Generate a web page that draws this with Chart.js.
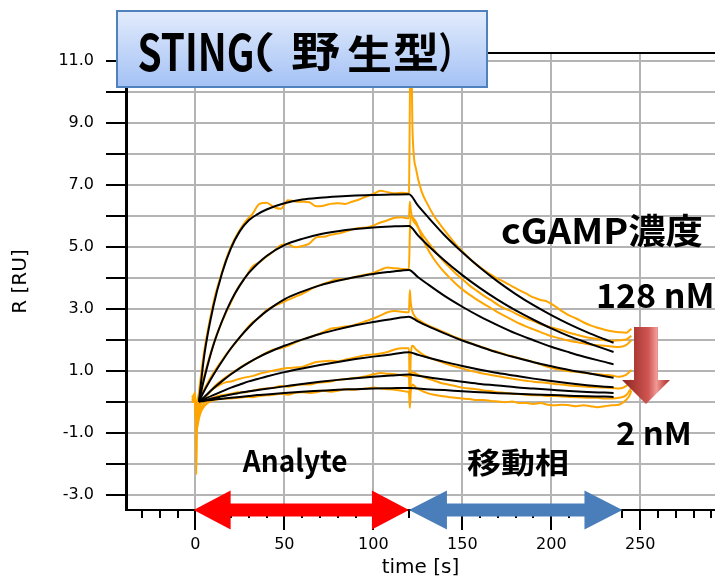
<!DOCTYPE html>
<html>
<head>
<meta charset="utf-8">
<script src="https://cdn.jsdelivr.net/npm/chart.js@4.4.1/dist/chart.umd.min.js"></script>
<style>
html, body { margin: 0; padding: 0; background: #fff; }
</style>
</head>
<body>
<canvas id="sensorgramChart" width="715" height="580"></canvas>
<script>
// Temps des points mesurés (s)
const tMesure = [
    -2, -1, 0, 0.5, 1, 2, 3, 5,
    8, 11, 14, 17, 20, 24, 28, 32, 36, 40,
    44, 48, 52, 56, 60, 64, 68, 72, 76, 80,
    84, 88, 92, 96, 100, 104, 108, 112, 116, 119,
    120, 120.5, 121, 122, 124, 127, 130, 134, 138, 142,
    146, 150, 154, 158, 162, 166, 170, 174, 178, 182,
    186, 190, 194, 198, 202, 206, 210, 214, 218, 222,
    226, 230, 234, 238, 242, 244, 245
];

// Réponses mesurées (RU) pour chaque concentration de cGAMP
const mesure128 = [
    0.15, 0.2, 0.3, -2.35, -0.4, 0.3, 0.8, 1.65,
    2.6, 3.4, 4.0, 4.55, 5.0, 5.45, 5.8, 6.05, 6.38, 6.42,
    6.28, 6.22, 6.5, 6.46, 6.45, 6.43, 6.3, 6.32, 6.38, 6.4,
    6.38, 6.45, 6.52, 6.62, 6.7, 6.8, 6.76, 6.72, 6.74, 6.72,
    6.75, 9.5, 13, 8.8, 7.5, 6.8, 6.42, 6.0, 5.68, 5.38,
    5.1, 4.85, 4.62, 4.42, 4.25, 4.1, 3.96, 3.85, 3.72, 3.6,
    3.48, 3.36, 3.28, 3.22, 3.08, 2.92, 2.78, 2.68, 2.56, 2.46,
    2.38, 2.32, 2.27, 2.24, 2.22, 2.3, 2.35
];
const mesure64 = [
    0.1, 0.12, 0.15, -0.5, -0.2, 0.2, 0.45, 0.85,
    1.45, 2.0, 2.45, 2.85, 3.2, 3.68, 4.0, 4.35, 4.5, 4.68,
    4.85, 5.05, 5.08, 4.98, 5.02, 5.1, 5.3, 5.32, 5.38, 5.42,
    5.48, 5.55, 5.6, 5.62, 5.68, 5.78, 5.85, 5.93, 5.95, 5.92,
    5.92, 6.45, 6.2, 5.9, 5.72, 5.45, 5.2, 4.9, 4.62, 4.38,
    4.15, 3.95, 3.75, 3.58, 3.42, 3.28, 3.12, 3.0, 2.9, 2.78,
    2.68, 2.6, 2.5, 2.42, 2.36, 2.3, 2.22, 2.16, 2.1, 2.05,
    2.02, 1.98, 1.96, 1.98, 2.0, 2.08, 2.12
];
const mesure32 = [
    0.05, 0.08, 0.1, -0.6, -0.35, 0.0, 0.2, 0.4,
    0.72, 1.0, 1.25, 1.5, 1.72, 2.0, 2.3, 2.55, 2.72, 2.95,
    3.08, 3.18, 3.28, 3.38, 3.48, 3.6, 3.72, 3.8, 3.88, 3.95,
    3.95, 4.0, 4.05, 4.1, 4.15, 4.25, 4.33, 4.3, 4.28, 4.27,
    4.27, 5.4, 6.0, 5.95, 5.8, 5.35, 4.98, 4.6, 4.3, 4.05,
    3.82, 3.62, 3.45, 3.3, 3.15, 3.02, 2.88, 2.76, 2.64, 2.52,
    2.42, 2.33, 2.24, 2.15, 2.08, 2.02, 1.96, 1.92, 1.88, 1.84,
    1.82, 1.8, 1.78, 1.76, 1.82, 1.92, 1.98
];
const mesure16 = [
    0.05, 0.05, 0.08, -0.7, -0.45, -0.15, 0.0, 0.12,
    0.3, 0.5, 0.65, 0.78, 0.9, 1.05, 1.2, 1.32, 1.45, 1.58,
    1.68, 1.72, 1.8, 1.9, 2.0, 2.08, 2.15, 2.25, 2.35, 2.38,
    2.42, 2.45, 2.52, 2.6, 2.68, 2.78, 2.88, 2.92, 2.9, 2.88,
    2.88, 3.6, 3.2, 2.9, 2.7, 2.58, 2.48, 2.38, 2.28, 2.18,
    2.08, 2.0, 1.9, 1.82, 1.74, 1.66, 1.6, 1.52, 1.46, 1.4,
    1.34, 1.28, 1.2, 1.12, 1.06, 1.02, 0.98, 0.96, 0.93, 0.9,
    0.88, 0.86, 0.84, 0.8, 0.86, 0.96, 1.02
];
const mesure8 = [
    0.0, 0.02, 0.05, -0.8, -0.6, -0.3, -0.1, 0.08,
    0.3, 0.45, 0.55, 0.62, 0.65, 0.72, 0.78, 0.82, 0.9, 0.95,
    1.0, 1.05, 1.08, 1.1, 1.12, 1.2, 1.28, 1.3, 1.32, 1.3,
    1.35, 1.4, 1.45, 1.5, 1.52, 1.55, 1.6, 1.68, 1.72, 1.72,
    1.72, 0.25, 1.4, 1.8, 1.68, 1.55, 1.45, 1.36, 1.28, 1.2,
    1.13, 1.07, 1.0, 0.95, 0.9, 0.86, 0.82, 0.78, 0.74, 0.7,
    0.67, 0.64, 0.62, 0.6, 0.57, 0.55, 0.52, 0.5, 0.49, 0.47,
    0.46, 0.45, 0.44, 0.42, 0.5, 0.62, 0.7
];
const mesure4 = [
    0.0, 0.0, 0.02, -0.9, -0.75, -0.45, -0.25, -0.05,
    0.08, 0.15, 0.2, 0.22, 0.25, 0.3, 0.3, 0.35, 0.4, 0.42,
    0.45, 0.5, 0.48, 0.52, 0.55, 0.55, 0.6, 0.62, 0.65, 0.7,
    0.72, 0.75, 0.78, 0.82, 0.88, 0.92, 0.9, 0.88, 0.85, 0.82,
    0.82, 0.2, 0.7, 0.95, 0.9, 0.82, 0.75, 0.68, 0.6, 0.55,
    0.5, 0.45, 0.42, 0.4, 0.36, 0.34, 0.3, 0.28, 0.25, 0.24,
    0.22, 0.2, 0.2, 0.18, 0.18, 0.16, 0.15, 0.14, 0.13, 0.12,
    0.12, 0.1, 0.1, 0.12, 0.2, 0.35, 0.45
];
const mesure2 = [
    -0.02, 0.0, 0.0, -1.0, -0.85, -0.55, -0.35, -0.15,
    0.0, 0.05, 0.08, 0.1, 0.1, 0.12, 0.15, 0.14, 0.18, 0.2,
    0.22, 0.25, 0.22, 0.28, 0.3, 0.28, 0.3, 0.35, 0.32, 0.35,
    0.4, 0.38, 0.4, 0.42, 0.45, 0.42, 0.4, 0.38, 0.35, 0.32,
    0.32, -0.2, 0.3, 0.55, 0.45, 0.35, 0.28, 0.22, 0.18, 0.15,
    0.12, 0.1, 0.08, 0.05, 0.05, 0.02, 0.0, -0.02, 0.0, -0.05,
    -0.05, -0.08, -0.05, -0.1, -0.12, -0.1, -0.12, -0.15, -0.12, -0.15,
    -0.18, -0.15, -0.12, -0.1, 0.05, 0.2, 0.35
];

// Courbes ajustées (fit) : temps et valeurs
const tFit = [2, 5, 10, 15, 20, 25, 30, 35, 40, 50, 60, 70, 80, 90, 100, 110, 120,
    125, 130, 140, 150, 160, 170, 180, 190, 200, 210, 220, 230, 235];
const fit128 = [0, 1.5, 3.05, 4.15, 4.95, 5.5, 5.85, 6.05, 6.2, 6.4, 6.52, 6.58, 6.62, 6.65, 6.67, 6.68, 6.69,
    6.33, 6.0, 5.37, 4.82, 4.32, 3.87, 3.47, 3.11, 2.79, 2.5, 2.24, 2.01, 1.9];
const fit64 = [0, 0.75, 1.8, 2.6, 3.25, 3.75, 4.15, 4.45, 4.7, 5.05, 5.25, 5.4, 5.5, 5.57, 5.62, 5.65, 5.67,
    5.37, 5.08, 4.55, 4.08, 3.66, 3.28, 2.94, 2.64, 2.36, 2.11, 1.9, 1.7, 1.6];
const fit32 = [0, 0.35, 0.85, 1.3, 1.72, 2.08, 2.4, 2.68, 2.92, 3.3, 3.55, 3.75, 3.9, 4.02, 4.12, 4.19, 4.25,
    4.02, 3.81, 3.41, 3.06, 2.74, 2.46, 2.2, 1.98, 1.77, 1.59, 1.42, 1.28, 1.2];
const fit16 = [0, 0.15, 0.42, 0.66, 0.88, 1.08, 1.26, 1.42, 1.56, 1.8, 2.0, 2.18, 2.33, 2.46, 2.57, 2.66, 2.74,
    2.59, 2.45, 2.2, 1.97, 1.77, 1.58, 1.42, 1.27, 1.14, 1.02, 0.92, 0.82, 0.77];
const fit8 = [0, 0.08, 0.21, 0.33, 0.45, 0.55, 0.65, 0.73, 0.81, 0.95, 1.07, 1.18, 1.28, 1.37, 1.45, 1.52, 1.59,
    1.51, 1.43, 1.28, 1.15, 1.03, 0.92, 0.83, 0.74, 0.66, 0.59, 0.53, 0.48, 0.46];
const fit4 = [0, 0.04, 0.11, 0.17, 0.23, 0.28, 0.33, 0.37, 0.41, 0.49, 0.57, 0.64, 0.7, 0.75, 0.8, 0.84, 0.87,
    0.83, 0.79, 0.71, 0.64, 0.57, 0.52, 0.46, 0.42, 0.38, 0.34, 0.31, 0.29, 0.28];
const fit2 = [0, 0.02, 0.06, 0.09, 0.12, 0.15, 0.18, 0.21, 0.23, 0.28, 0.32, 0.35, 0.38, 0.4, 0.42, 0.43, 0.44,
    0.42, 0.4, 0.37, 0.33, 0.3, 0.27, 0.25, 0.23, 0.21, 0.19, 0.17, 0.16, 0.15];

const mesures = [mesure128, mesure64, mesure32, mesure16, mesure8, mesure4, mesure2];
const fits = [fit128, fit64, fit32, fit16, fit8, fit4, fit2];

// Phases : injection de l'analyte puis phase mobile
const debutInjection = -1;
const finInjection = 120;
const finDissociation = 240;

function toPoints(ts, vals) {
    return ts.map((t, i) => ({ x: t, y: vals[i] }));
}

// Ajuste un texte dans une boite (encre) donnée
function fitInk(ctx, text, font, x0, y0, x1, y1) {
    ctx.save();
    ctx.font = font;
    ctx.textAlign = 'left';
    ctx.textBaseline = 'alphabetic';
    const m = ctx.measureText(text);
    const w = m.actualBoundingBoxLeft + m.actualBoundingBoxRight;
    const h = m.actualBoundingBoxAscent + m.actualBoundingBoxDescent;
    ctx.translate(x0, y0);
    ctx.scale((x1 - x0) / w, (y1 - y0) / h);
    ctx.fillStyle = '#000';
    ctx.fillText(text, m.actualBoundingBoxLeft, m.actualBoundingBoxAscent);
    ctx.restore();
}

function doubleArrow(ctx, x0, x1, yc, headLen, headHalf, shaftHalf, color) {
    ctx.beginPath();
    ctx.moveTo(x0, yc);
    ctx.lineTo(x0 + headLen, yc - headHalf);
    ctx.lineTo(x0 + headLen, yc - shaftHalf);
    ctx.lineTo(x1 - headLen, yc - shaftHalf);
    ctx.lineTo(x1 - headLen, yc - headHalf);
    ctx.lineTo(x1, yc);
    ctx.lineTo(x1 - headLen, yc + headHalf);
    ctx.lineTo(x1 - headLen, yc + shaftHalf);
    ctx.lineTo(x0 + headLen, yc + shaftHalf);
    ctx.lineTo(x0 + headLen, yc + headHalf);
    ctx.closePath();
    ctx.fillStyle = color;
    ctx.fill();
}

const decorPlugin = {
    id: 'decor',
    afterDraw(chart) {
        const ctx = chart.ctx;
        const xs = chart.scales.x;
        const area = chart.chartArea;
        const fontJp = '"Noto Sans CJK JP", "Noto Sans", sans-serif';

        ctx.save();
        // graduations secondaires de l'axe x
        ctx.strokeStyle = '#000';
        ctx.lineWidth = 2;
        for (let t = -30; t <= 290; t += 10) {
            if (t % 50 === 0) continue;
            const px = Math.round(xs.getPixelForValue(t));
            ctx.beginPath();
            ctx.moveTo(px, area.bottom);
            ctx.lineTo(px, area.bottom + 8);
            ctx.stroke();
        }
        // bord superieur
        ctx.beginPath();
        ctx.moveTo(area.left, area.top);
        ctx.lineTo(area.right, area.top);
        ctx.stroke();

        // fleches des phases
        const yAxe = area.bottom;
        doubleArrow(ctx, xs.getPixelForValue(debutInjection), xs.getPixelForValue(finInjection),
            yAxe, 37, 19.5, 6.5, '#ff0000');
        doubleArrow(ctx, xs.getPixelForValue(finInjection), xs.getPixelForValue(finDissociation),
            yAxe, 38, 19.5, 6.5, '#4a7ebb');

        // fleche vers le bas (concentrations)
        const g = ctx.createLinearGradient(622, 0, 670, 0);
        g.addColorStop(0, '#8a2724');
        g.addColorStop(0.3, '#b23d39');
        g.addColorStop(0.55, '#cf5753');
        g.addColorStop(0.72, '#f09a96');
        g.addColorStop(0.88, '#c9504c');
        g.addColorStop(1, '#9e3431');
        ctx.beginPath();
        ctx.moveTo(634, 327);
        ctx.lineTo(658, 327);
        ctx.lineTo(658, 380);
        ctx.lineTo(670, 380);
        ctx.lineTo(646, 404);
        ctx.lineTo(622, 380);
        ctx.lineTo(634, 380);
        ctx.closePath();
        ctx.fillStyle = g;
        ctx.fill();

        // cadre du titre
        const gb = ctx.createLinearGradient(0, 10, 0, 88);
        gb.addColorStop(0, '#e3ecfc');
        gb.addColorStop(1, '#a3c1f5');
        ctx.fillStyle = gb;
        ctx.fillRect(117, 11, 370, 76);
        ctx.strokeStyle = '#4f81bd';
        ctx.lineWidth = 2;
        ctx.strokeRect(117, 11, 370, 76);
        ctx.restore();

        // textes
        const titreFont = 'bold 46px ' + fontJp;
        fitInk(ctx, 'STING', 'bold 52px ' + fontJp, 139, 33, 252, 72);
        fitInk(ctx, '（', titreFont, 257, 32, 273, 73);
        fitInk(ctx, '野', titreFont, 292, 33, 340, 72);
        fitInk(ctx, '生', titreFont, 348, 34, 390, 72);
        fitInk(ctx, '型', titreFont, 394, 33, 437, 72);
        fitInk(ctx, '）', titreFont, 440, 32, 450, 73);
        fitInk(ctx, 'cGAMP濃度', 'bold 40px ' + fontJp, 502, 213, 702, 248);
        fitInk(ctx, '128 nM', 'bold 32px ' + fontJp, 598, 283, 712, 308);
        fitInk(ctx, '2 nM', 'bold 30px ' + fontJp, 617, 422, 689, 445);
        fitInk(ctx, 'Analyte', 'bold 34px ' + fontJp, 242, 447, 347, 478);
        fitInk(ctx, '移動相', 'bold 32px ' + fontJp, 467, 449, 567, 478);
    }
};

const datasets = [];
fits.forEach(vals => {
    datasets.push({
        data: toPoints(tFit, vals),
        borderColor: '#000000',
        borderWidth: 2,
        pointRadius: 0,
        cubicInterpolationMode: 'monotone',
        order: 0
    });
});
mesures.forEach(vals => {
    datasets.push({
        data: toPoints(tMesure, vals),
        borderColor: '#ffa500',
        borderWidth: 2,
        pointRadius: 0,
        cubicInterpolationMode: 'monotone',
        order: 1
    });
});

Chart.defaults.font.family = '"DejaVu Sans", sans-serif';
Chart.defaults.color = '#000';

new Chart(document.getElementById('sensorgramChart').getContext('2d'), {
    type: 'line',
    data: { datasets: datasets },
    options: {
        responsive: false,
        animation: false,
        events: [],
        layout: { padding: { top: 53, right: 0, bottom: 0, left: 0 } },
        plugins: {
            legend: { display: false },
            tooltip: { enabled: false }
        },
        scales: {
            x: {
                type: 'linear',
                min: -39,
                max: 292,
                border: { color: '#000', width: 2 },
                grid: { color: '#b4b4b4', lineWidth: 2, tickColor: '#000', tickWidth: 2, tickLength: 20 },
                ticks: { stepSize: 50, includeBounds: false, padding: 5, maxRotation: 0, autoSkip: false,
                    font: { size: 16 } },
                title: { display: true, text: 'time [s]', font: { size: 20 }, padding: { top: 0, bottom: 0 } },
                afterFit: s => { s.height = 70; }
            },
            y: {
                type: 'linear',
                min: -3.5,
                max: 11.25,
                border: { color: '#000', width: 3 },
                grid: { color: '#b4b4b4', lineWidth: 2, tickColor: '#000', tickWidth: 2, tickLength: 20 },
                ticks: {
                    stepSize: 1, includeBounds: false, padding: 12, autoSkip: false,
                    font: { size: 16 },
                    callback: v => (Math.abs(v % 2) === 1 ? v.toFixed(1) : '')
                },
                title: { display: true, text: 'R [RU]', font: { size: 20 }, padding: { top: 9, bottom: 0 } },
                afterFit: s => { s.width = 126; }
            }
        }
    },
    plugins: [decorPlugin]
});
</script>
</body>
</html>
